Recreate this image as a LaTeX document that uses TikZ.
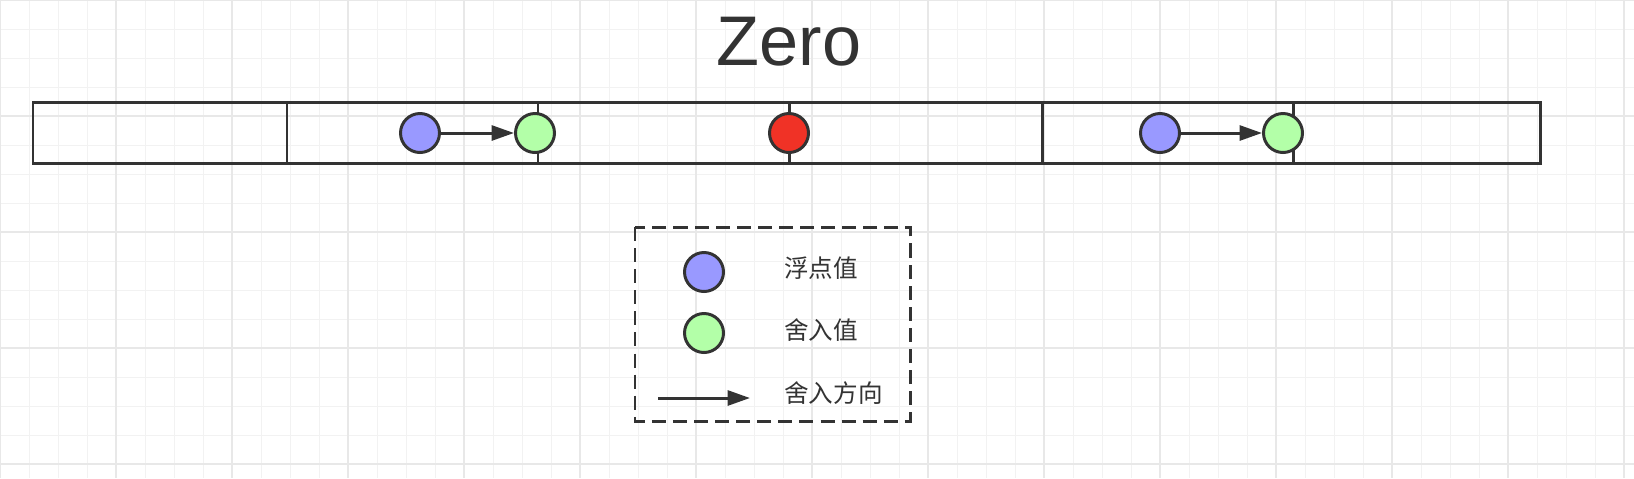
\documentclass[tikz,border=0pt]{standalone}
\usepackage{fontspec}
\setmainfont{Liberation Sans}
\newfontfamily\cjk{Noto Sans CJK SC}
\usetikzlibrary{arrows.meta}
\definecolor{stk}{HTML}{333333}
\definecolor{fblue}{HTML}{9999FF}
\definecolor{fgreen}{HTML}{B3FFA8}
\definecolor{fred}{HTML}{F03226}
\tikzset{
 dot/.style={circle,draw=stk,line width=1.7pt,minimum size=0.78cm,inner sep=0pt},
 arr/.style={draw=stk,line width=1.7pt,-{Triangle[length=0.45cm,width=0.3cm]}},
 bar/.style={draw=stk,line width=1.7pt},
 lbl/.style={font=\cjk\fontsize{14pt}{16pt}\selectfont,text=stk,anchor=west}
}
\begin{document}
\begin{tikzpicture}[x=0.02cm,y=-0.02cm]
\useasboundingbox (0,0) rectangle (1634,478);
\fill[white] (0,0) rectangle (1634,478);
\foreach \x in {0,29,...,1634} \draw[black!5,line width=0.4pt] (\x,0) -- (\x,478);
\foreach \y in {0,29,...,478} \draw[black!5,line width=0.4pt] (0,\y) -- (1634,\y);
\foreach \x in {0,116,...,1634} \draw[black!9,line width=0.6pt] (\x,0) -- (\x,478);
\foreach \y in {0,116,...,478} \draw[black!9,line width=0.6pt] (0,\y) -- (1634,\y);
\node[text=stk,font=\fontsize{40pt}{44pt}\selectfont] (title) at (789,42) {Zero};
\draw[bar] (33,102) rectangle (1540,163);
\foreach \x in {287,538,789,1042,1293} \draw[bar] (\x,102) -- (\x,163);
\node[dot,fill=fblue] (b1) at (420,133) {};
\node[dot,fill=fgreen] (g1) at (535,133) {};
\node[dot,fill=fred] (r) at (789,133) {};
\node[dot,fill=fblue] (b2) at (1160,133) {};
\node[dot,fill=fgreen] (g2) at (1283,133) {};
\draw[arr] (b1) -- (g1);
\draw[arr] (b2) -- (g2);
\draw[stk,line width=1.7pt,dashed,dash pattern=on 8pt off 4pt] (635,227) rectangle (910,421);
\node[dot,fill=fblue] (lb) at (704,272) {};
\node[dot,fill=fgreen] (lg) at (704,333) {};
\coordinate (a1) at (658,398);
\coordinate (a2) at (750,398);
\draw[arr] (a1) -- (a2);
\node[lbl] (t1) at (778,268) {浮点值};
\node[lbl] (t2) at (778,330) {舍入值};
\node[lbl] (t3) at (778,393) {舍入方向};
\end{tikzpicture}
\end{document}
